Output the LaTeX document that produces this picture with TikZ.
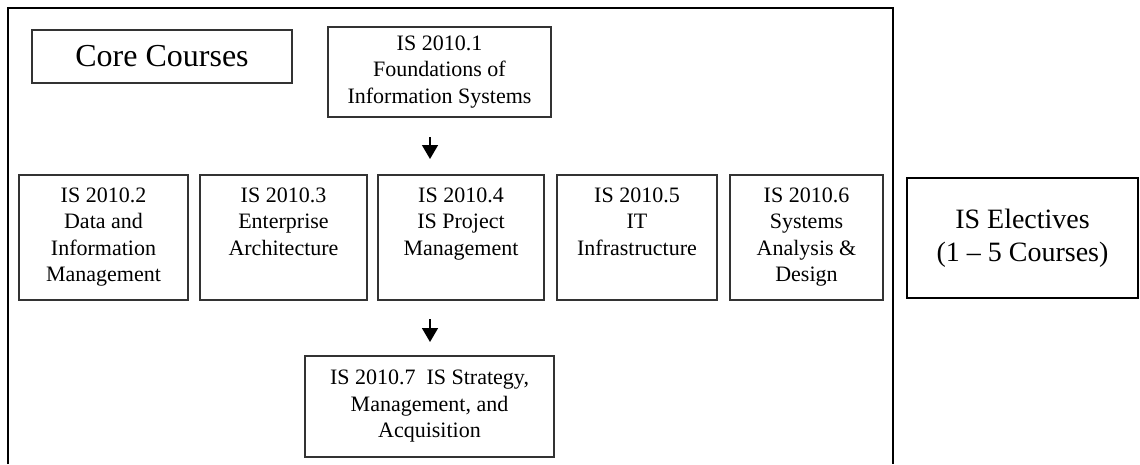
\documentclass[tikz,border=0pt]{standalone}
\usepackage{fontspec}
\setmainfont{Liberation Serif}
\usetikzlibrary{arrows.meta,positioning}

\newcommand{\toptext}[1]{\parbox[t][100pt][t]{150pt}{\centering #1}}

\begin{document}
\begin{tikzpicture}[x=1pt,y=-1pt,>={Triangle[width=16pt,length=14pt]},
  every node/.style={font=\fontsize{22}{26.5}\selectfont},
  course/.style={draw=black!80,line width=1.5pt,align=center,inner sep=0pt,outer sep=0pt},
  row/.style={course,minimum height=125pt}]
  \useasboundingbox (0,0) rectangle (1140,464);
  % frame round the core courses
  \draw[line width=1.6pt] (8,464) -- (8,8) -- (893,8) -- (893,464);
  \node[course,minimum width=260pt,minimum height=53pt,font=\fontsize{32}{38}\selectfont] (core) at (162,56.5) {Core Courses};
  \node[course,minimum width=223pt,minimum height=90pt] (fis) at (439.5,72) {IS 2010.1\\Foundations of\\Information Systems};
  % middle row
  \node[row,minimum width=169pt] (dim) at (103.5,237.5) {\toptext{IS 2010.2\\Data and\\Information\\Management}};
  \node[row,minimum width=167pt,right=12pt of dim] (ea) {\toptext{IS 2010.3\\Enterprise\\Architecture}};
  \node[row,minimum width=166pt,right=11pt of ea] (ispm) {\toptext{IS 2010.4\\IS Project\\Management}};
  \node[row,minimum width=160pt,right=13pt of ispm] (iti) {\toptext{IS 2010.5\\IT\\Infrastructure}};
  \node[row,minimum width=153pt,right=13pt of iti] (sad) {\toptext{IS 2010.6\\Systems\\Analysis \&\\Design}};
  \node[course,minimum width=249pt,minimum height=101pt] (strat) at (429.5,406.5) {IS 2010.7\ \ IS Strategy,\\Management, and\\Acquisition};
  % electives
  \node[draw,line width=2.5pt,minimum width=231pt,minimum height=120pt,align=center,font=\fontsize{28}{33}\selectfont] (elec) at (1022.5,238) {IS Electives\\(1 -- 5 Courses)};
  \coordinate (ax) at (430,0);
  \draw[->,line width=1.5pt,shorten <=20pt,shorten >=16pt] (ax |- fis.south) -- (ax |- ispm.north);
  \draw[->,line width=1.5pt,shorten <=19pt,shorten >=14pt] (ax |- ispm.south) -- (ax |- strat.north);
\end{tikzpicture}
\end{document}
